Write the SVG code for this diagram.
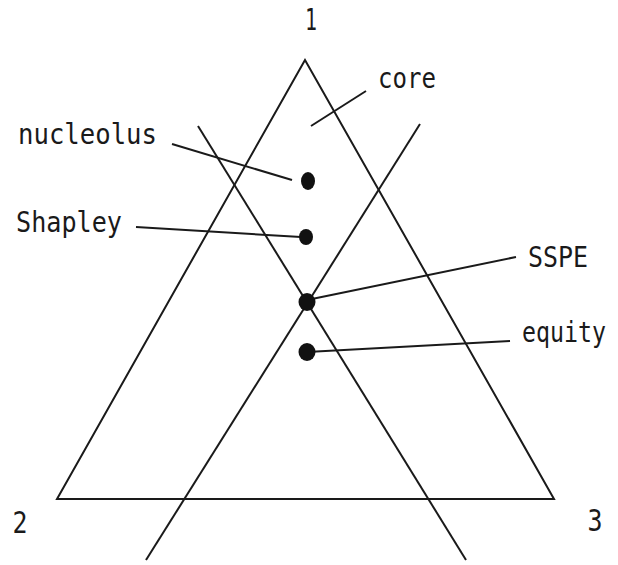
<svg xmlns="http://www.w3.org/2000/svg" width="618" height="565" viewBox="0 0 618 565">
<style>
.ln{stroke:#1a1a1a;stroke-width:2;fill:none}
.dot{fill:#111}
.t{font-family:"DejaVu Sans Mono","Liberation Mono",monospace;font-size:29px;fill:#1a1a1a}
.n{font-family:"DejaVu Sans Mono","Liberation Mono",monospace;font-size:30px;fill:#1a1a1a;text-anchor:middle}
</style>
<rect width="618" height="565" fill="#fff"/>
<g id="triangle">
<polygon class="ln" points="305,60 57,499 554,499"/>
</g>
<g id="lines">
<line class="ln" x1="198" y1="126" x2="466" y2="560"/>
<line class="ln" x1="420" y1="124" x2="146" y2="560"/>
</g>
<g id="connectors">
<line class="ln" x1="172" y1="144" x2="292" y2="180"/>
<line class="ln" x1="136" y1="227" x2="301" y2="237"/>
<line class="ln" x1="307" y1="300" x2="516" y2="257"/>
<line class="ln" x1="307" y1="352" x2="510" y2="341"/>
<line class="ln" x1="311" y1="126" x2="366" y2="91"/>
</g>
<g id="nucleolus-point"><ellipse class="dot" cx="308" cy="181" rx="7" ry="9"/></g>
<g id="shapley-point"><ellipse class="dot" cx="306" cy="237" rx="7" ry="8"/></g>
<g id="sspe-point"><ellipse class="dot" cx="307" cy="302" rx="8.5" ry="9"/></g>
<g id="equity-point"><ellipse class="dot" cx="307" cy="352" rx="8.5" ry="9"/></g>
<g id="labels">
<text class="n" x="311" y="30" textLength="12" lengthAdjust="spacingAndGlyphs">1</text>
<text class="n" x="20" y="533" textLength="15" lengthAdjust="spacingAndGlyphs">2</text>
<text class="n" x="595" y="531" textLength="15" lengthAdjust="spacingAndGlyphs">3</text>
<text class="t" x="378" y="88" textLength="58" lengthAdjust="spacingAndGlyphs">core</text>
<text class="t" x="18" y="144" textLength="139" lengthAdjust="spacingAndGlyphs">nucleolus</text>
<text class="t" x="16" y="232" textLength="106" lengthAdjust="spacingAndGlyphs">Shapley</text>
<text class="t" x="528" y="267" textLength="60" lengthAdjust="spacingAndGlyphs">SSPE</text>
<text class="t" x="522" y="342" textLength="84" lengthAdjust="spacingAndGlyphs">equity</text>
</g>
</svg>
